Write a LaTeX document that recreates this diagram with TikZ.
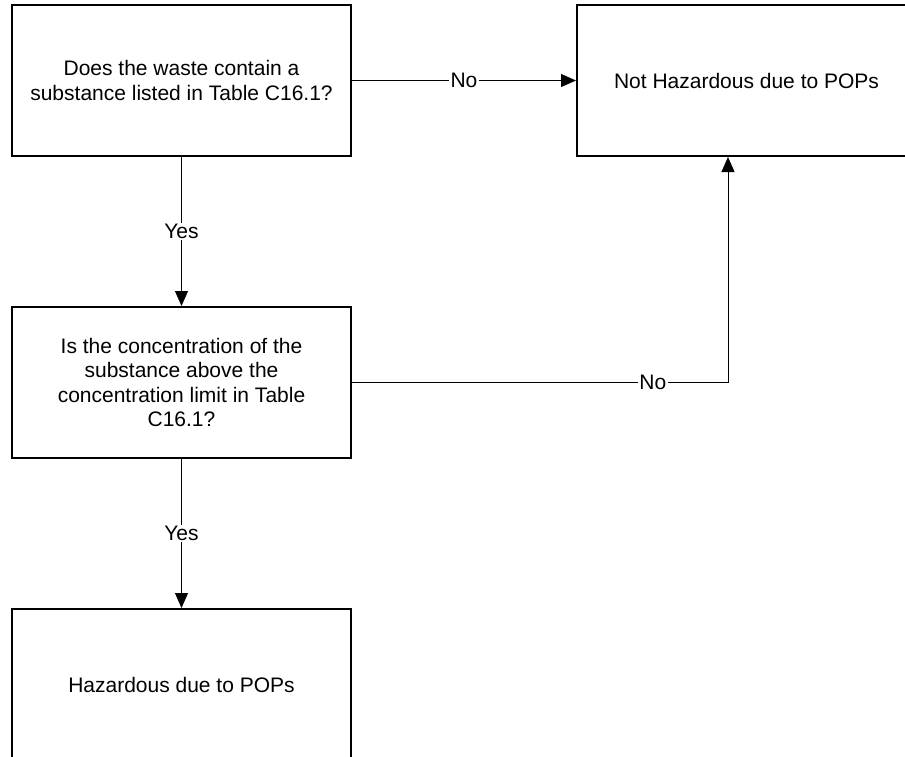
\documentclass[tikz,border=0pt]{standalone}
\usepackage{fontspec}
\setmainfont{Liberation Sans}
\usetikzlibrary{arrows.meta}

\begin{document}
\begin{tikzpicture}[x=1pt,y=-1pt,
  stepbox/.style={draw=black, line width=2pt, minimum width=339pt, minimum height=151pt,
    align=center, font=\fontsize{21}{24.5}\selectfont, inner sep=0pt},
  flow/.style={line width=1pt, -{Triangle[length=15pt,width=13pt]}},
  lbl/.style={fill=white, inner sep=1.5pt, font=\fontsize{21}{24.5}\selectfont}]
  \useasboundingbox (0,0) rectangle (905,757);
  \clip (0,0) rectangle (905,757);

  % decision and result boxes
  \node[stepbox] (q1) at (181.5,80.5) {Does the waste contain a\\substance listed in Table C16.1?};
  \node[stepbox] (nh) at (746.5,80.5) {Not Hazardous due to POPs};
  \node[stepbox] (q2) at (181.5,382.5) {Is the concentration of the\\substance above the\\concentration limit in Table\\C16.1?};
  \node[stepbox] (hz) at (181.5,684.5) {Hazardous due to POPs};

  % bend point of the second "No" branch
  \coordinate (k) at (728,382.5);

  % connectors
  \draw[flow] (q1.east) -- node[lbl] {No} (nh.west);
  \draw[flow] (q1.south) -- node[lbl] {Yes} (q2.north);
  \draw[flow] (q2.south) -- node[lbl] {Yes} (hz.north);
  \draw[flow] (q2.east) -- node[lbl, pos=0.8] {No} (k) -- (k |- nh.south);
\end{tikzpicture}
\end{document}
